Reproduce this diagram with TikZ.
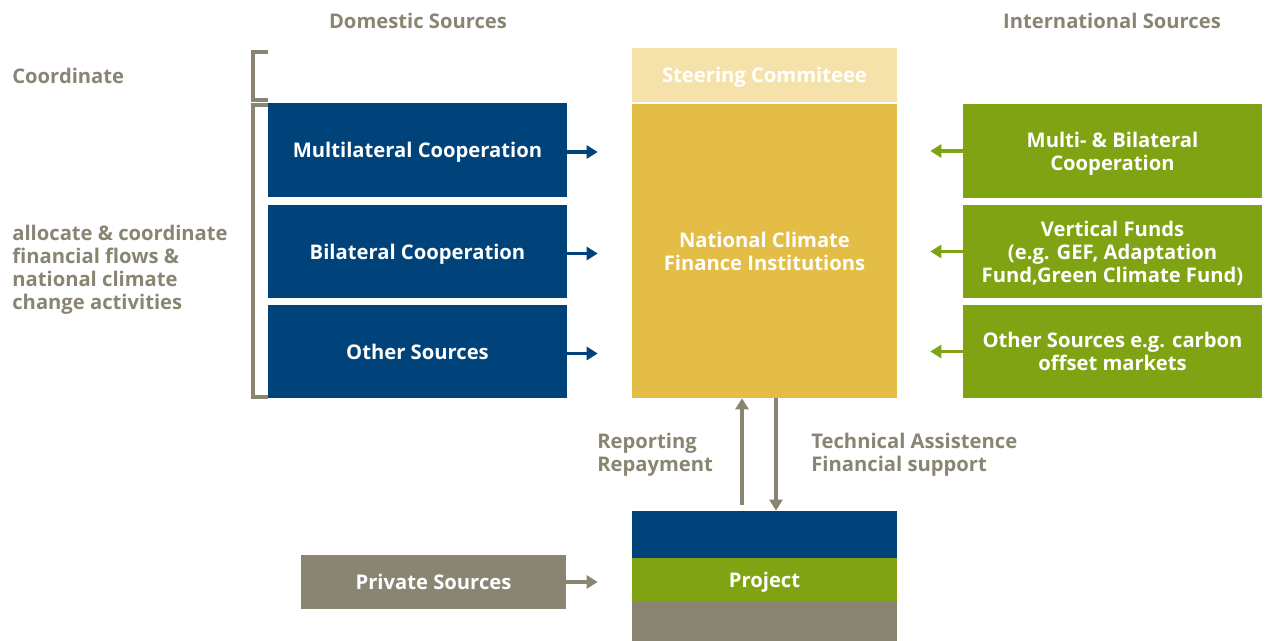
\documentclass[tikz,border=0pt]{standalone}
\usepackage{fontspec}
\setmainfont{Open Sans}
\usetikzlibrary{arrows.meta, positioning}
\definecolor{finblue}{RGB}{0,66,122}
\definecolor{fingreen}{RGB}{128,163,19}
\definecolor{fingold}{RGB}{227,189,69}
\definecolor{finlight}{RGB}{245,226,171}
\definecolor{fingray}{RGB}{137,133,114}

\begin{document}
\begin{tikzpicture}[x=0.02cm, y=-0.02cm,
    box/.style={rectangle, inner sep=2pt, text depth=0pt, minimum width=5.98cm, minimum height=1.87cm, align=center, text=white, font=\fontsize{11.5}{13}\selectfont\bfseries},
    label/.style={text=fingray, inner sep=0pt, align=left, font=\fontsize{11.5}{13}\selectfont\bfseries},
    arrow/.style={-{Triangle[length=0.22cm, width=0.26cm]}, line width=0.07cm},
    bracket/.style={draw=fingray, line width=0.08cm}
]
\useasboundingbox (0,0) rectangle (1265,641);

% Domestic sources
\node[box, fill=finblue, minimum height=1.88cm] (mc) at (417.5,150) {Multilateral Cooperation};
\node[box, fill=finblue, minimum height=1.86cm] (bc) at (417.5,251.5) {Bilateral Cooperation};
\node[box, fill=finblue, minimum height=1.86cm] (os) at (417.5,351.5) {Other Sources};

% International sources
\node[box, fill=fingreen, minimum height=1.88cm] (ib) at (1112.5,151) {Multi- \& Bilateral\\Cooperation};
\node[box, fill=fingreen, minimum height=1.86cm] (vf) at (1112.5,251.5) {Vertical Funds\\(e.g. GEF, Adaptation\\Fund,Green Climate Fund)};
\node[box, fill=fingreen, minimum height=1.86cm] (io) at (1112.5,351.5) {Other Sources e.g. carbon\\offset markets};

% National institutions
\node[box, fill=fingold, minimum width=5.3cm, minimum height=5.88cm] (ncfi) at (764.5,251) {National Climate\\Finance Institutions};
\node[box, fill=finlight, minimum width=5.3cm, minimum height=1.08cm] (sc) at (764.5,75) {Steering Commiteee};

% Project stack
\node[box, fill=finblue, minimum width=5.3cm, minimum height=0.94cm] (pblue) at (764.5,534.5) {};
\node[box, fill=fingreen, minimum width=5.3cm, minimum height=0.86cm] (proj) at (764.5,579.5) {Project};
\node[box, fill=fingray, minimum width=5.3cm, minimum height=0.8cm] (pgray) at (764.5,621) {};
\node[box, fill=fingray, minimum width=5.3cm, minimum height=1.08cm] (priv) at (433.5,582) {Private Sources};

% Headings and side notes
\node[label] (dom) at (418,21) {Domestic Sources};
\node[label] (int) at (1112,21) {International Sources};
\node[label, anchor=west] (coord) at (12,76) {Coordinate};
\node[label, anchor=west] (alloc) at (12,270) {allocate \& coordinate\\financial flows \&\\national climate\\change activities};
\node[label, anchor=west] (rep) at (597,455) {Reporting\\Repayment};
\node[label, anchor=west] (tech) at (811,455) {Technical Assistence\\Financial support};

% Brackets
\draw[bracket] (268,52) -| (253,100) -- (268,100);
\draw[bracket] (268,105) -| (253,397) -- (268,397);

% Arrows
\foreach \src in {mc, bc, os}
  \draw[arrow, finblue, shorten >=0.68cm] ([yshift=-0.04cm]\src.east) -- ([yshift=-0.04cm]\src.east -| ncfi.west);
\foreach \src in {ib, vf, io}
  \draw[arrow, fingreen, shorten >=0.66cm] (\src.west) -- (\src.west -| ncfi.east);
\draw[arrow, fingray, shorten >=0.68cm] (priv.east) -- (priv.east -| proj.west);
\draw[arrow, fingray, line width=0.08cm] ([xshift=-0.45cm, yshift=0.12cm]pblue.north) -- ([xshift=-0.45cm]ncfi.south);
\draw[arrow, fingray, line width=0.08cm] ([xshift=0.23cm]ncfi.south) -- ([xshift=0.23cm]pblue.north);
\end{tikzpicture}
\end{document}
